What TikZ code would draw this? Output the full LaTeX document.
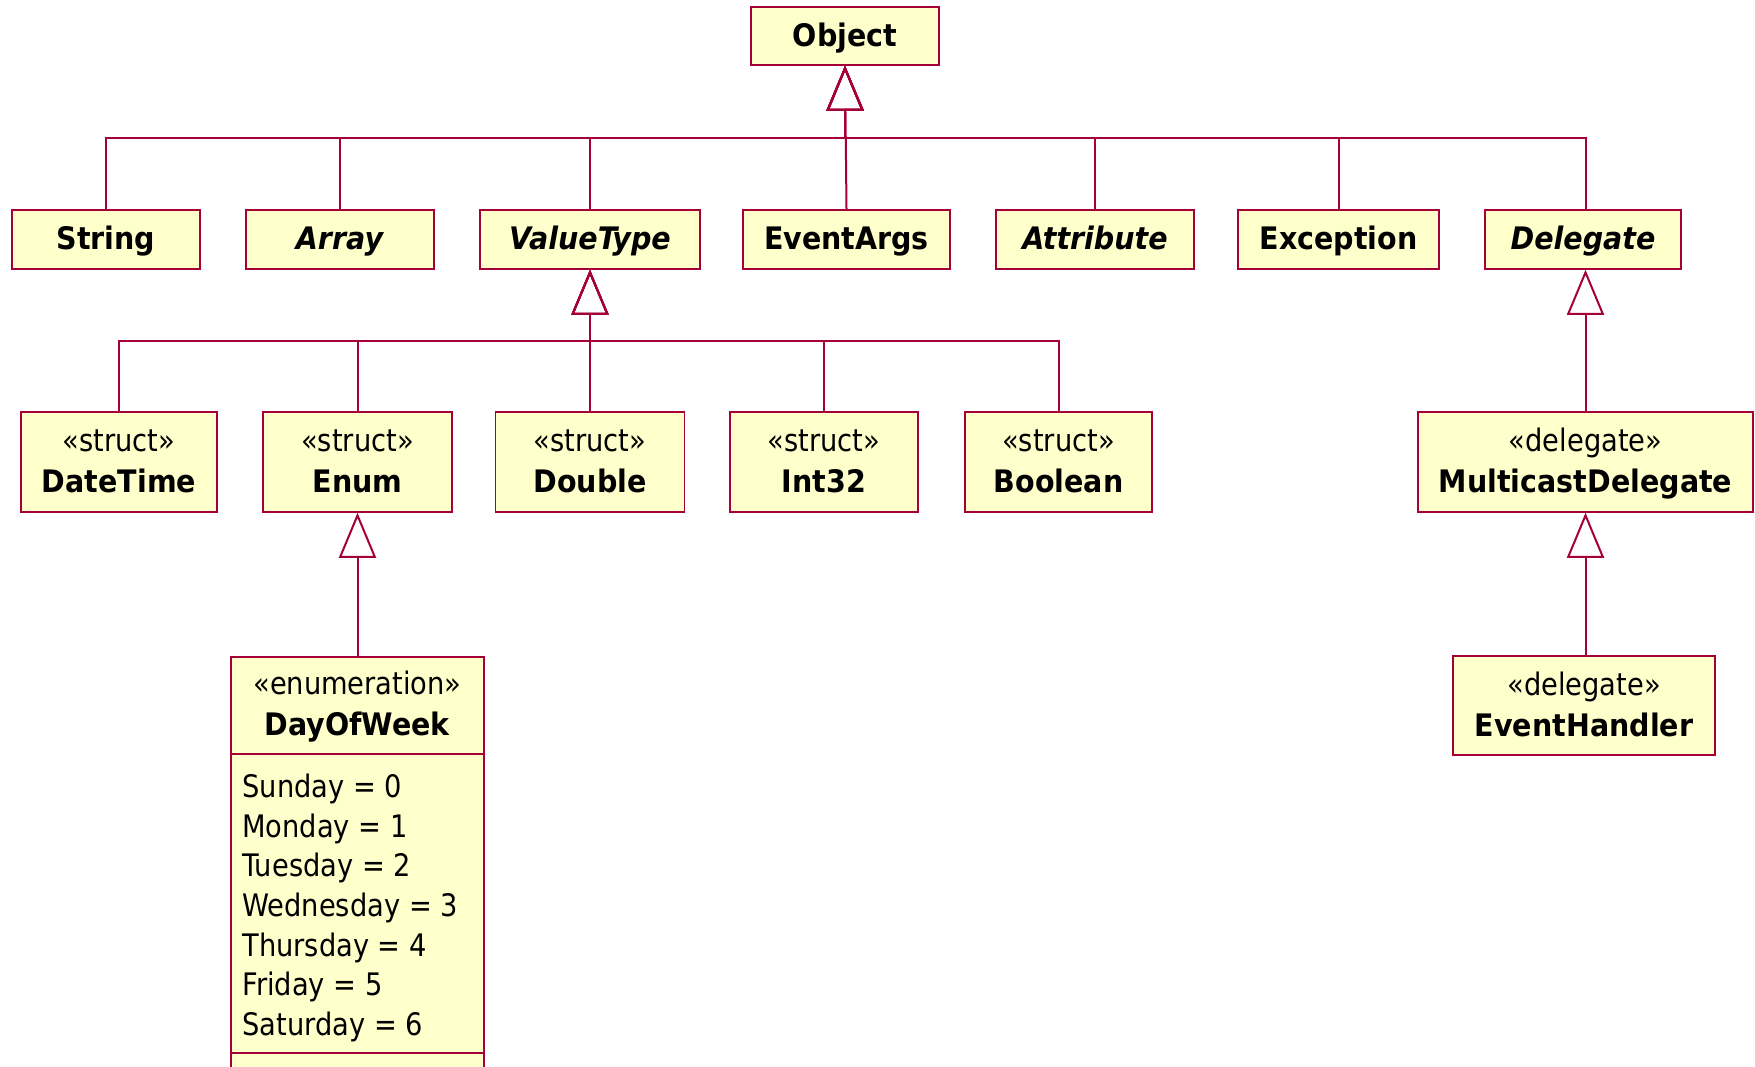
\documentclass[tikz,border=0pt]{standalone}
\usepackage{fontspec}
\setmainfont{DejaVu Sans}[UprightFeatures={FakeStretch=0.88},ItalicFeatures={FakeStretch=0.88},BoldFeatures={FakeStretch=0.92},BoldItalicFeatures={FakeStretch=0.92}]
\usetikzlibrary{arrows.meta}
\definecolor{umlline}{RGB}{165,0,55}
\definecolor{umlfill}{RGB}{255,255,204}
\newcommand\ustrut{\rule[-3.8pt]{0pt}{17.8pt}}
\tikzset{
  cls/.style={draw=umlline, fill=umlfill, line width=0.75pt, inner sep=0pt, align=center,
    font=\fontsize{15.5}{20.5}\selectfont},
  txt/.style={inner sep=0pt, align=center, font=\fontsize{15.5}{20.5}\selectfont},
  gen/.style={draw=umlline, line width=1pt, -{Triangle[open, length=22.5pt, width=18.5pt, line width=1pt]}},
  sepline/.style={draw=umlline, line width=0.75pt}
}
\begin{document}
\begin{tikzpicture}[x=0.5pt, y=-0.5pt]
\useasboundingbox (0,0) rectangle (1755,1066);
% top
\node[cls, minimum width=94pt, minimum height=29pt] (object) at (845,36) {\ustrut\textbf{Object}};
% row 2
\node[cls, minimum width=94pt, minimum height=29.5pt] (string) at (106,239.5) {\ustrut\textbf{String}};
\node[cls, minimum width=94pt, minimum height=29.5pt] (array) at (340,239.5) {\ustrut\textbf{\textit{Array}}};
\node[cls, minimum width=110pt, minimum height=29.5pt] (valuetype) at (590,239.5) {\ustrut\textbf{\textit{ValueType}}};
\node[cls, minimum width=103.5pt, minimum height=29.5pt] (eventargs) at (846.5,239.5) {\ustrut\textbf{EventArgs}};
\node[cls, minimum width=99pt, minimum height=29.5pt] (attribute) at (1095,239.5) {\ustrut\textbf{\textit{Attribute}}};
\node[cls, minimum width=100.5pt, minimum height=29.5pt] (exception) at (1338.5,239.5) {\ustrut\textbf{Exception}};
\node[cls, minimum width=98pt, minimum height=29.5pt] (delegate) at (1583,239.5) {\ustrut\textbf{\textit{Delegate}}};
% row 3
\node[cls, minimum width=98pt, minimum height=50pt] (datetime) at (119,462) {\ustrut«struct»\\\ustrut\textbf{DateTime}};
\node[cls, minimum width=94.5pt, minimum height=50pt] (enum) at (357.5,462) {\ustrut«struct»\\\ustrut\textbf{Enum}};
\node[cls, minimum width=94.5pt, minimum height=50pt] (double) at (590,462) {\ustrut«struct»\\\ustrut\textbf{Double}};
\node[cls, minimum width=94pt, minimum height=50pt] (int32) at (824,462) {\ustrut«struct»\\\ustrut\textbf{Int32}};
\node[cls, minimum width=93.5pt, minimum height=50pt] (boolean) at (1058.5,462) {\ustrut«struct»\\\ustrut\textbf{Boolean}};
\node[cls, minimum width=167.5pt, minimum height=50pt] (mcd) at (1585.5,462) {\ustrut«delegate»\\\ustrut\textbf{MulticastDelegate}};
% row 4
\node[cls, minimum width=131pt, minimum height=49.5pt] (eh) at (1584,705.5) {\ustrut«delegate»\\\ustrut\textbf{EventHandler}};
\node[cls, anchor=north, minimum width=126.5pt, minimum height=220pt] (dow) at (357.5,656) {};
\node[txt] (dowhead) at (357.5,705) {\ustrut«enumeration»\\\ustrut\textbf{DayOfWeek}};
\coordinate (sepa) at (0,754);
\coordinate (sepb) at (0,1053);
\draw[sepline] (dow.west |- sepa) -- (dow.east |- sepa);
\draw[sepline] (dow.west |- sepb) -- (dow.east |- sepb);
\node[inner sep=0pt, anchor=north west, align=left, font=\fontsize{15.5}{19.85}\selectfont] (items) at (242,769.2)
  {\strut Sunday = 0\\\strut Monday = 1\\\strut Tuesday = 2\\\strut Wednesday = 3\\\strut Thursday = 4\\\strut Friday = 5\\\strut Saturday = 6};
% connectors
\coordinate (busO) at (845,138);
\coordinate (busV) at (590,341);
\draw[gen] (string.north) |- (busO) -- (object.south);
\draw[gen] (array.north) |- (busO) -- (object.south);
\draw[gen] (valuetype.north) |- (busO) -- (object.south);
\draw[gen] (eventargs.north) -- (object.south);
\draw[gen] (attribute.north) |- (busO) -- (object.south);
\draw[gen] (exception.north) |- (busO) -- (object.south);
\draw[gen] ([xshift=1.5pt]delegate.north) |- (busO) -- (object.south);
\draw[gen] (datetime.north) |- (busV) -- (valuetype.south);
\draw[gen] (enum.north) |- (busV) -- (valuetype.south);
\draw[gen] (double.north) -- (valuetype.south);
\draw[gen] (int32.north) |- (busV) -- (valuetype.south);
\draw[gen] (boolean.north) |- (busV) -- (valuetype.south);
\draw[gen] (mcd.north) -- (mcd.north |- delegate.south);
\draw[gen] (dow.north) -- (enum.south);
\draw[gen] (eh.north -| mcd.south) -- (mcd.south);
\end{tikzpicture}
\end{document}
